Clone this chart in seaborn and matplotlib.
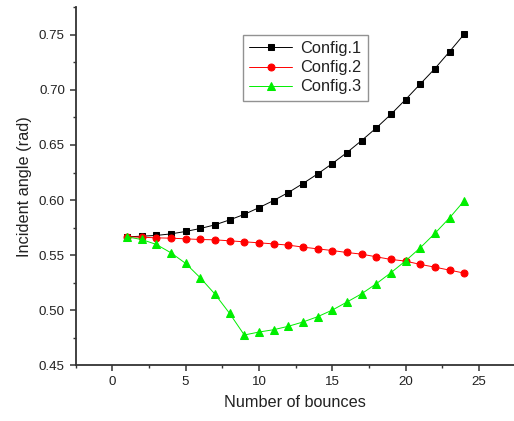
import numpy as np
import pandas as pd
import seaborn as sns
import matplotlib.pyplot as plt
from matplotlib.ticker import MultipleLocator

sns.set_style('ticks')
plt.rcParams['font.family'] = ['Liberation Sans', 'DejaVu Sans']

bounces = list(range(1, 25))
config_1 = [0.5666, 0.5672, 0.5679, 0.5693, 0.5715, 0.5742, 0.5775, 0.5820,
            0.5870, 0.5931, 0.5996, 0.6068, 0.6150, 0.6237, 0.6331, 0.6431,
            0.6540, 0.6654, 0.6778, 0.6912, 0.7053, 0.7193, 0.7347, 0.7506]
config_2 = [0.5666, 0.5663, 0.5657, 0.5654, 0.5648, 0.5642, 0.5639, 0.5630,
            0.5621, 0.5612, 0.5602, 0.5591, 0.5573, 0.5557, 0.5542, 0.5524,
            0.5509, 0.5485, 0.5461, 0.5446, 0.5416, 0.5391, 0.5364, 0.5337]
config_3 = [0.5666, 0.5642, 0.5597, 0.5521, 0.5425, 0.5294, 0.5146, 0.4971,
            0.4775, 0.4802, 0.4823, 0.4854, 0.4893, 0.4941, 0.5001, 0.5074,
            0.5149, 0.5240, 0.5340, 0.5448, 0.5566, 0.5697, 0.5838, 0.5993]

series = [('Config.1', config_1, 'black', 's', 4.4),
          ('Config.2', config_2, '#ff0000', 'o', 5.0),
          ('Config.3', config_3, '#00ee00', '^', 5.8)]

fig = plt.figure(figsize=(5.14, 4.21), dpi=100)
ax = fig.add_axes([0.1473, 0.1323, 0.8527, 0.8504])

for name, vals, col, mk, ms in series:
    df = pd.DataFrame({'bounces': bounces, 'angle': vals})
    sns.lineplot(data=df, x='bounces', y='angle', ax=ax, color=col,
                 marker=mk, markersize=ms, markeredgecolor=col,
                 linewidth=0.7, label=name)

ax.set_xlim(-2.5, 27.4)
ax.set_ylim(0.45, 0.775)
ax.xaxis.set_major_locator(MultipleLocator(5))
ax.xaxis.set_minor_locator(MultipleLocator(2.5))
ax.yaxis.set_major_locator(MultipleLocator(0.05))
ax.yaxis.set_minor_locator(MultipleLocator(0.025))
ax.yaxis.set_major_formatter(plt.FormatStrFormatter('%.2f'))

sns.despine(ax=ax)
for s in ['left', 'bottom']:
    ax.spines[s].set_linewidth(1.3)
    ax.spines[s].set_color('#333333')
ax.tick_params(which='major', direction='out', length=4.3, width=1.1,
               color='#333333', labelsize=9.6, labelcolor='#222222', pad=3.5)
ax.tick_params(which='minor', direction='out', length=2.5, width=1.0,
               color='#333333')

ax.set_xlabel('Number of bounces', fontsize=11.7, color='#222222', labelpad=5)
ax.set_ylabel('Incident angle (rad)', fontsize=11.7, color='#222222', labelpad=5)

leg = ax.legend(loc='upper left', bbox_to_anchor=(0.381, 0.9235), fontsize=11.8,
                frameon=True, fancybox=False, edgecolor='#777777',
                handlelength=2.6, labelspacing=0.25, borderpad=0.4,
                handletextpad=0.5, borderaxespad=0)
leg.get_frame().set_linewidth(1.0)
for t in leg.get_texts():
    t.set_color('#222222')

fig.savefig('out.png', dpi=100)
